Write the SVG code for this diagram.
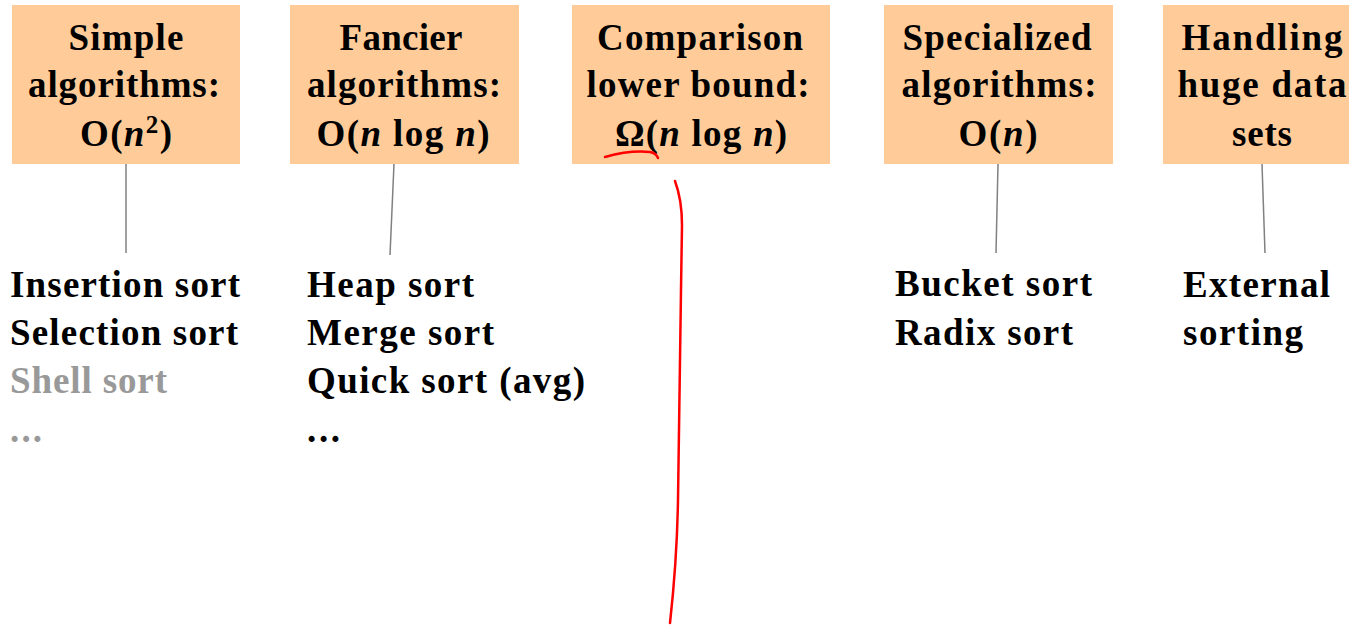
<svg xmlns="http://www.w3.org/2000/svg" width="1349" height="625" viewBox="0 0 1349 625">
<style>
  .box { fill: #FFCC99; }
  .t { font-family: "Liberation Serif", "Times New Roman", serif; font-weight: bold; font-size: 37px; fill: #000; }
  .h { text-anchor: middle; }
  .g { fill: #999999; }
  .conn { stroke: #808080; stroke-width: 1.5; fill: none; }
  .red { stroke: #FF0000; stroke-width: 2.5; fill: none; stroke-linecap: round; }
</style>
<rect width="1349" height="625" fill="#fff"/>
<g id="connectors">
  <line class="conn" x1="126" y1="164" x2="126" y2="253"/>
  <line class="conn" x1="394" y1="164" x2="390" y2="255"/>
  <line class="conn" x1="998" y1="164" x2="996" y2="253"/>
  <line class="conn" x1="1262" y1="164" x2="1265" y2="253"/>
</g>
<g id="node-simple">
  <rect class="box" x="12" y="5" width="228" height="159"/>
  <text class="t h" x="126" y="50" textLength="115" lengthAdjust="spacing">Simple</text>
  <text class="t h" x="124" y="97" textLength="192" lengthAdjust="spacing">algorithms:</text>
  <text class="t" x="80" y="146" textLength="92" lengthAdjust="spacing">O(<tspan font-style="italic">n</tspan><tspan font-size="25" dy="-13">2</tspan><tspan dy="13">)</tspan></text>
</g>
<g id="node-fancier">
  <rect class="box" x="290" y="5" width="229" height="159"/>
  <text class="t h" x="401" y="50" textLength="123" lengthAdjust="spacing">Fancier</text>
  <text class="t h" x="404" y="97" textLength="194" lengthAdjust="spacing">algorithms:</text>
  <text class="t h" x="403" y="146" textLength="173" lengthAdjust="spacing">O(<tspan font-style="italic">n</tspan> log <tspan font-style="italic">n</tspan>)</text>
</g>
<g id="node-comparison">
  <rect class="box" x="572" y="5" width="258" height="159"/>
  <text class="t h" x="700" y="50" textLength="206" lengthAdjust="spacing">Comparison</text>
  <text class="t h" x="698" y="97" textLength="223" lengthAdjust="spacing">lower bound:</text>
  <text class="t h" x="701" y="146" textLength="172" lengthAdjust="spacing">Ω(<tspan font-style="italic">n</tspan> log <tspan font-style="italic">n</tspan>)</text>
  <path class="red" d="M605,157 Q630,150 650,152 Q656,153 658,158"/>
</g>
<g id="node-specialized">
  <rect class="box" x="884" y="5" width="229" height="159"/>
  <text class="t h" x="997" y="50" textLength="189" lengthAdjust="spacing">Specialized</text>
  <text class="t h" x="999" y="97" textLength="195" lengthAdjust="spacing">algorithms:</text>
  <text class="t h" x="998" y="146" textLength="79" lengthAdjust="spacing">O(<tspan font-style="italic">n</tspan>)</text>
</g>
<g id="node-huge">
  <rect class="box" x="1163" y="5" width="186" height="159"/>
  <text class="t h" x="1262" y="50" textLength="161" lengthAdjust="spacing">Handling</text>
  <text class="t h" x="1262" y="97" textLength="169" lengthAdjust="spacing">huge data</text>
  <text class="t h" x="1262" y="146" textLength="60" lengthAdjust="spacing">sets</text>
</g>
<g id="list-simple">
  <text class="t" x="10" y="297" textLength="230" lengthAdjust="spacing">Insertion sort</text>
  <text class="t" x="10" y="345" textLength="228" lengthAdjust="spacing">Selection sort</text>
  <text class="t g" x="10" y="393" textLength="157" lengthAdjust="spacing">Shell sort</text>
  <text class="t g" x="10" y="442" textLength="32" lengthAdjust="spacing">...</text>
</g>
<g id="list-fancier">
  <text class="t" x="307" y="297" textLength="167" lengthAdjust="spacing">Heap sort</text>
  <text class="t" x="307" y="345" textLength="187" lengthAdjust="spacing">Merge sort</text>
  <text class="t" x="307" y="393" textLength="278" lengthAdjust="spacing">Quick sort (avg)</text>
  <text class="t" x="307" y="442" textLength="33" lengthAdjust="spacing">...</text>
</g>
<g id="list-specialized">
  <text class="t" x="895" y="296" textLength="197" lengthAdjust="spacing">Bucket sort</text>
  <text class="t" x="895" y="345" textLength="178" lengthAdjust="spacing">Radix sort</text>
</g>
<g id="list-huge">
  <text class="t" x="1183" y="297" textLength="147" lengthAdjust="spacing">External</text>
  <text class="t" x="1183" y="345" textLength="120" lengthAdjust="spacing">sorting</text>
</g>
<path id="red-line" class="red" d="M675,181 Q682,200 682,225 L681,290 L678,500 Q677,560 670,623"/>
</svg>
